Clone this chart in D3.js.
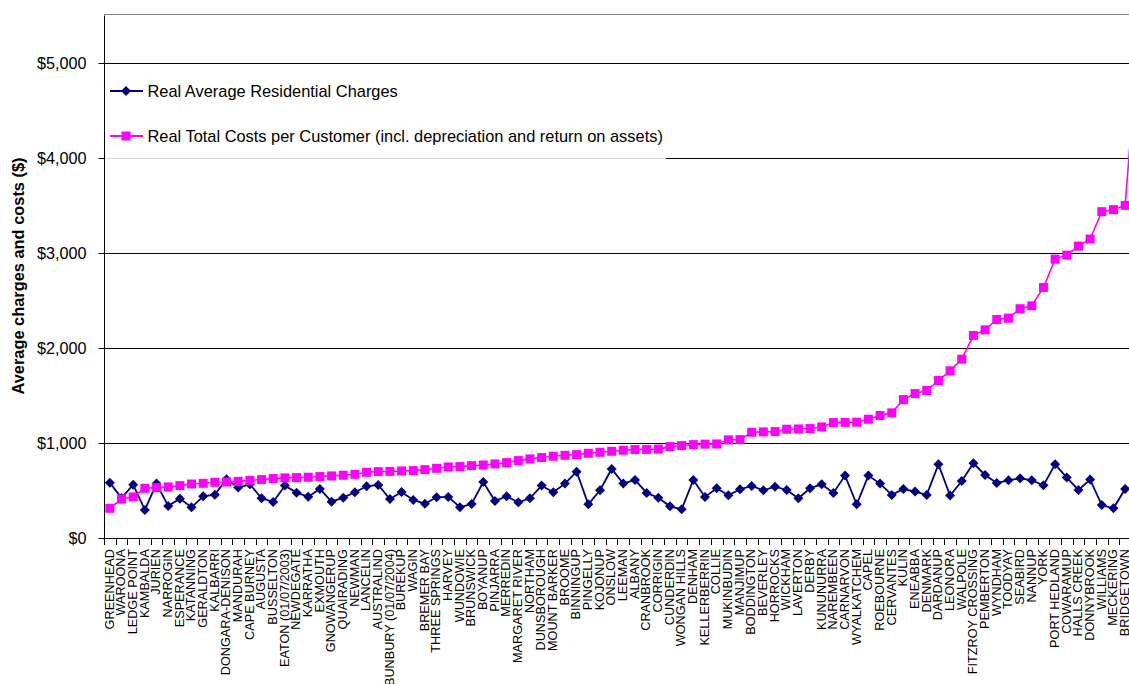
<!DOCTYPE html>
<html>
<head>
<meta charset="utf-8">
<script src="https://cdn.jsdelivr.net/npm/d3@7"></script>
<style>
  html, body { margin: 0; padding: 0; background: #fff; }
  svg { display: block; font-family: "Liberation Sans", Arial, sans-serif; }
</style>
</head>
<body>
<svg id="chart" width="1129" height="684"></svg>
<script>
// Water schemes, ordered by total cost per customer
const categories = [
  "GREENHEAD", "WAROONA", "LEDGE POINT", "KAMBALDA", "JURIEN", "NARROGIN", "ESPERANCE",
  "KATANNING", "GERALDTON", "KALBARRI", "DONGARA-DENISON", "MANDURAH", "CAPE BURNEY",
  "AUGUSTA", "BUSSELTON", "EATON (01/07/2003)", "NEWDEGATE", "KARRATHA", "EXMOUTH",
  "GNOWANGERUP", "QUAIRADING", "NEWMAN", "LANCELIN", "AUSTRALIND", "BUNBURY (01/07/2004)",
  "BUREKUP", "WAGIN", "BREMER BAY", "THREE SPRINGS", "HARVEY", "WUNDOWIE", "BRUNSWICK",
  "BOYANUP", "PINJARRA", "MERREDIN", "MARGARET RIVER", "NORTHAM", "DUNSBOROUGH",
  "MOUNT BARKER", "BROOME", "BINNINGUP", "PINGELLY", "KOJONUP", "ONSLOW", "LEEMAN",
  "ALBANY", "CRANBROOK", "CORRIGIN", "CUNDERDIN", "WONGAN HILLS", "DENHAM",
  "KELLERBERRIN", "COLLIE", "MUKINBUDIN", "MANJIMUP", "BODDINGTON", "BEVERLEY",
  "HORROCKS", "WICKHAM", "LAVERTON", "DERBY", "KUNUNURRA", "NAREMBEEN", "CARNARVON",
  "WYALKATCHEM", "CAPEL", "ROEBOURNE", "CERVANTES", "KULIN", "ENEABBA", "DENMARK",
  "DARDANUP", "LEONORA", "WALPOLE", "FITZROY CROSSING", "PEMBERTON", "WYNDHAM",
  "TOODYAY", "SEABIRD", "NANNUP", "YORK", "PORT HEDLAND", "COWARAMUP", "HALLS CREEK",
  "DONNYBROOK", "WILLIAMS", "MECKERING", "BRIDGETOWN", ""
];

// Real average residential charges ($)
const charges = [
  582, 420, 561, 295, 572, 337, 414, 323, 439, 456, 618, 530, 565, 418, 379, 551, 477, 435,
  516, 382, 424, 481, 544, 558, 410, 484, 400, 361, 428, 432, 323, 358, 589, 389, 439, 375,
  418, 551, 481, 572, 698, 354, 502, 726, 572, 611, 474, 424, 333, 302, 611, 432, 523, 449,
  512, 547, 502, 540, 505, 418, 523, 565, 474, 656, 354, 656, 572, 453, 515, 488, 453, 775,
  446, 600, 786, 663, 579, 607, 628, 607, 554, 775, 635, 505, 614, 347, 312, 516, 530
];

// Real total costs per customer, incl. depreciation and return on assets ($)
const costs = [
  312, 410, 432, 523, 530, 537, 551, 568, 575, 586, 589, 596, 607, 614, 625, 632, 635, 639,
  646, 653, 660, 670, 691, 698, 700, 705, 709, 719, 733, 747, 751, 761, 768, 779, 793, 814,
  832, 846, 860, 870, 877, 891, 902, 912, 923, 930, 932, 935, 961, 972, 982, 987, 989, 1032,
  1035, 1112, 1116, 1119, 1144, 1147, 1151, 1168, 1214, 1216, 1218, 1249, 1288, 1316, 1455,
  1519, 1551, 1656, 1758, 1881, 2130, 2189, 2298, 2312, 2411, 2442, 2635, 2933, 2975, 3070,
  3144, 3432, 3453, 3498, 5040
];

const yTicks = [0, 1000, 2000, 3000, 4000, 5000];
const yTitle = "Average charges and costs ($)";
const seriesNames = [
  "Real Average Residential Charges",
  "Real Total Costs per Customer (incl. depreciation and return on assets)"
];
const seriesColors = ["#000080", "#FF00FF"];

(function draw() {
  const svg = d3.select("#chart");
  const plotLeft = 104, plotTop = 15, plotBottom = 538;
  const band = 11.67;

  const x = d3.scaleBand()
    .domain(d3.range(categories.length))
    .range([plotLeft, plotLeft + band * categories.length])
    .paddingInner(0).paddingOuter(0);
  const cx = i => x(i) + x.bandwidth() / 2;

  const y = d3.scaleLinear().domain([0, 5500]).range([plotBottom, plotTop]);
  const fmt = d => "$" + d3.format(",")(d);

  // Plot frame top
  svg.append("line")
    .attr("x1", plotLeft).attr("x2", 1129).attr("y1", plotTop - 0.5).attr("y2", plotTop - 0.5)
    .attr("stroke", "#808080").attr("stroke-width", 1);

  // Gridlines
  svg.append("g").selectAll("line").data(yTicks.filter(d => d > 0)).join("line")
    .attr("x1", plotLeft).attr("x2", 1129)
    .attr("y1", d => Math.round(y(d)) + 0.5).attr("y2", d => Math.round(y(d)) + 0.5)
    .attr("stroke", "#000").attr("stroke-width", 1);

  // Y axis
  const yAxis = d3.axisLeft(y).tickValues(yTicks).tickSize(6).tickPadding(12).tickFormat(fmt);
  const gy = svg.append("g").attr("transform", `translate(${plotLeft + 0.5},0.5)`).call(yAxis);
  gy.select(".domain").attr("d", `M0,${plotTop}V${plotBottom}`).attr("stroke", "#000");
  gy.selectAll(".tick line").attr("stroke", "#000");
  gy.selectAll(".tick").attr("transform", d => `translate(0,${Math.round(y(d))})`);
  gy.selectAll("text").attr("font-size", 16.2).attr("fill", "#000")
    .attr("font-family", "'Liberation Sans', Arial, sans-serif");

  // Y axis title
  svg.append("text")
    .attr("transform", `translate(23.5,276) rotate(-90)`)
    .attr("text-anchor", "middle")
    .attr("font-size", 16.4).attr("font-weight", "bold")
    .text(yTitle);

  // X axis line and category ticks at band boundaries
  svg.append("line")
    .attr("x1", plotLeft).attr("x2", 1129).attr("y1", plotBottom + 0.5).attr("y2", plotBottom + 0.5)
    .attr("stroke", "#000");
  svg.append("g").selectAll("line").data(d3.range(categories.length + 1)).join("line")
    .attr("x1", i => Math.round(i < categories.length ? x(i) : x.range()[1]) + 0.5)
    .attr("x2", i => Math.round(i < categories.length ? x(i) : x.range()[1]) + 0.5)
    .attr("y1", plotBottom).attr("y2", plotBottom + 7)
    .attr("stroke", "#000");

  // Category labels, vertical
  svg.append("g").selectAll("text").data(categories).join("text")
    .attr("transform", (d, i) => `translate(${cx(i) + 3.8},${plotBottom + 11}) rotate(-90)`)
    .attr("text-anchor", "end")
    .attr("font-size", 12.7)
    .text(d => d);

  // Series
  const line = d3.line().x((d, i) => cx(i)).y(d => y(d));

  svg.append("path").datum(charges)
    .attr("d", line).attr("fill", "none")
    .attr("stroke", seriesColors[0]).attr("stroke-width", 1.8);
  svg.append("g").selectAll("path").data(charges).join("path")
    .attr("d", "M0,-5L5,0L0,5L-5,0Z")
    .attr("transform", (d, i) => `translate(${cx(i)},${y(d)})`)
    .attr("fill", seriesColors[0]);

  svg.append("path").datum(costs)
    .attr("d", line).attr("fill", "none")
    .attr("stroke", seriesColors[1]).attr("stroke-width", 1.6);
  svg.append("g").selectAll("rect").data(costs).join("rect")
    .attr("x", (d, i) => cx(i) - 4.5).attr("y", d => y(d) - 4.5)
    .attr("width", 9).attr("height", 9)
    .attr("fill", seriesColors[1]);

  // Legend
  const lg = svg.append("g");
  lg.append("rect").attr("x", plotLeft + 1).attr("y", 67).attr("width", 561).attr("height", 90.5)
    .attr("fill", "#fff");
  lg.append("line").attr("x1", plotLeft + 1).attr("x2", plotLeft + 562)
    .attr("y1", Math.round(y(4000)) + 0.5).attr("y2", Math.round(y(4000)) + 0.5)
    .attr("stroke", "#d8d8d8");
  const rows = [91, 136];
  seriesNames.forEach((name, k) => {
    const ry = rows[k];
    lg.append("line").attr("x1", 110).attr("x2", 143).attr("y1", ry).attr("y2", ry)
      .attr("stroke", seriesColors[k]).attr("stroke-width", 1.8);
    if (k === 0) {
      lg.append("path").attr("d", "M0,-5L5,0L0,5L-5,0Z")
        .attr("transform", `translate(126,${ry})`).attr("fill", seriesColors[k]);
    } else {
      lg.append("rect").attr("x", 126 - 4.5).attr("y", ry - 4.5)
        .attr("width", 9).attr("height", 9).attr("fill", seriesColors[k]);
    }
    lg.append("text").attr("x", 147.5).attr("y", ry + 6)
      .attr("font-size", 16.4).text(name);
  });
})();
</script>
</body>
</html>
